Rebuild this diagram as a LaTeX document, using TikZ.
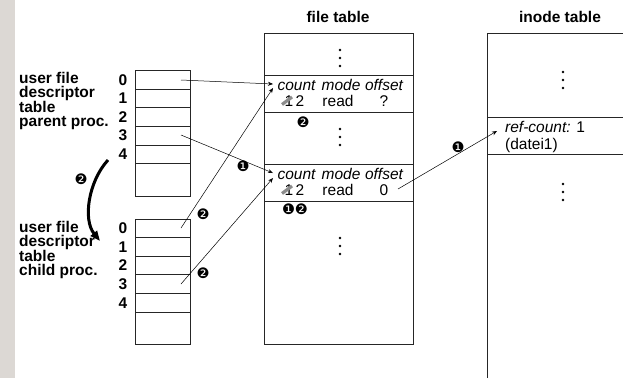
\documentclass[tikz,border=0pt]{standalone}
\usepackage{fontspec}
\setmainfont{Liberation Sans}
\newfontfamily\dingfont{DejaVu Sans}
\usetikzlibrary{arrows.meta}
\definecolor{stripgrey}{HTML}{DCD8D4}
\tikzset{tbl/.style={draw=black!85, line width=0.8pt},
 lbl/.style={font=\bfseries\fontsize{15.5}{14}\selectfont, align=left, anchor=north west, inner sep=0pt},
 idx/.style={font=\bfseries\fontsize{15.5}{15.5}\selectfont, inner sep=0pt},
 title/.style={font=\bfseries\fontsize{15.5}{15.5}\selectfont, inner sep=0pt},
 cell/.style={font=\fontsize{15.5}{15.5}\selectfont, inner sep=0pt, anchor=base},
 hd/.style={cell, font=\itshape\fontsize{15.5}{15.5}\selectfont},
 num/.style={font=\dingfont\fontsize{14.5}{14.5}\selectfont, inner sep=0pt},
 ptr/.style={-{Stealth[length=5pt,width=4pt]}, line width=0.5pt},
 forkarrow/.style={-{Triangle[length=10pt,width=8pt]}, line width=3pt},
 strike/.style={line width=3.2pt, black!45},
 }

\begin{document}
\begin{tikzpicture}[x=1pt,y=-1pt]
        \useasboundingbox (0,0) rectangle (623,378);
        \fill[stripgrey] (0,0) rectangle (15,378);
        \node[title] (ftitle) at (338,17) {file table};
        \node[title] (ititle) at (560,17) {inode table};
        % parent process table
        \draw[tbl] (135,70.5) rectangle (190,196);
        \foreach \i in {1,...,5} \draw[tbl] (135,70.5+18.6*\i) -- (190,70.5+18.6*\i);
        \foreach \i in {0,...,4} \node[idx] (pi\i) at (123,79.8+18.6*\i) {\i};
        \node[lbl] (plbl) at (19,72) {user file\\descriptor\\table\\parent proc.};
        % child process table
        \draw[tbl] (135,219) rectangle (190,344);
        \foreach \i in {1,...,5} \draw[tbl] (135,219+18.6*\i) -- (190,219+18.6*\i);
        \foreach \i in {0,...,4} \node[idx] (ci\i) at (123,228.3+18.6*\i) {\i};
        \node[lbl] (clbl) at (19,221) {user file\\descriptor\\table\\child proc.};
        % file table
        \draw[tbl] (264,33) rectangle (413,344);
        \foreach \y in {75,112,164,201} \draw[tbl] (264,\y) -- (413,\y);
        \node[hd] (cnt1) at (296.5,90) {count};
        \node[hd] (mode1) at (341,90) {mode};
        \node[hd] (off1) at (384,90) {offset};
        \node[cell] (one1) at (289,106) {1};
        \draw[strike] (282,104.5) -- (292,97);
        \node[cell] (two1) at (300,106) {2};
        \node[cell] (rd1) at (338,106) {read};
        \node[cell] (q1) at (384,106) {?};
        \node[hd] (cnt2) at (296.5,179) {count};
        \node[hd] (mode2) at (341,179) {mode};
        \node[hd] (off2) at (384,179) {offset};
        \node[cell] (one2) at (289,195) {1};
        \draw[strike] (282,193.5) -- (292,186);
        \node[cell] (two2) at (300,195) {2};
        \node[cell] (rd2) at (338,195) {read};
        \node[cell] (z2) at (384,195) {0};
        % inode table
        \draw[tbl] (487,378) -- (487,33) -- (623,33);
        \foreach \y in {117,154} \draw[tbl] (487,\y) -- (623,\y);
        \node[cell, anchor=base west] (ref) at (505,132) {\textit{ref-count:} 1};
        \node[cell, anchor=base west] (dat) at (505,149) {(datei1)};
        \foreach \x/\y in {340/58, 340/137, 340/246, 563/80, 563/192}
          \foreach \d in {-8,0,8} \fill (\x,\y+\d) circle (1.3);
        % pointers
        \coordinate (p0) at (181,80);
        \coordinate (p3) at (181,135);
        \coordinate (c0) at (181,228);
        \coordinate (c3) at (181,284);
        \coordinate (e1a) at (273,84);
        \coordinate (e1b) at (273,88);
        \coordinate (e2a) at (273,173);
        \coordinate (e2b) at (273,178);
        \coordinate (o2) at (398,189);
        \coordinate (ino) at (497,131);
        \draw[ptr] (p0) -- (e1a);
        \draw[ptr] (p3) -- (e2a);
        \draw[ptr] (c0) -- (e1b);
        \draw[ptr] (c3) -- (e2b);
        \draw[ptr] (o2) -- (ino);
        \coordinate (fk1) at (108,160);
        \coordinate (fk2) at (100,241);
        \draw[forkarrow] (fk1) .. controls (88,182) and (83,220) .. (fk2);
        % step numbers
        \node[num] (n1) at (303,122) {❷};
        \node[num] (n2) at (243,166) {❶};
        \node[num] (n3) at (203,214) {❷};
        \node[num] (n4) at (203,273) {❷};
        \node[num] (n5) at (295,209) {❶❷};
        \node[num] (n6) at (458,147) {❶};
        \node[num] (n7) at (81,179) {❷};
    \end{tikzpicture}
\end{document}
